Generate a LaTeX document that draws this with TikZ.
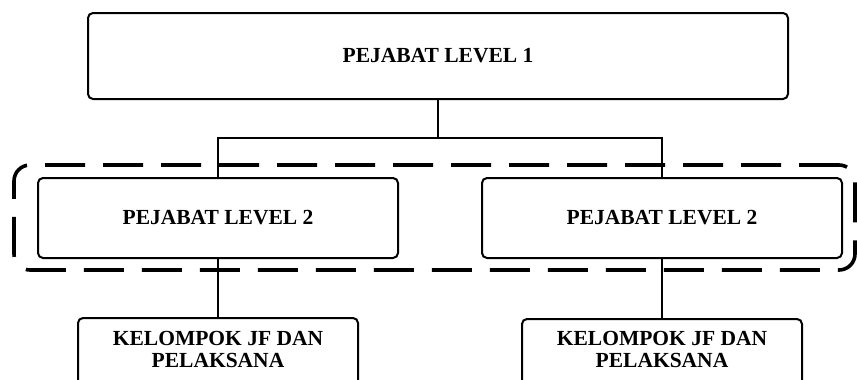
\documentclass[tikz,border=0pt]{standalone}
\usepackage{fontspec}
\setmainfont{Liberation Serif}
\begin{document}
\begin{tikzpicture}[x=1pt,y=-1pt,
  box/.style={draw, line width=2pt, rounded corners=5pt, inner sep=0pt},
  lbl/.style={font=\fontsize{21.5}{22}\selectfont\bfseries, align=center, inner sep=0pt},
  conn/.style={line width=1.8pt},
  grp/.style={draw, line width=3.6pt, rounded corners=16pt, dash pattern=on 40pt off 18pt, dash phase=0pt}]
\useasboundingbox (0,0) rectangle (857,380);
\clip (0,0) rectangle (857,380);
% level 1
\node[box, minimum width=700pt, minimum height=86pt] (l1) at (438,56) {};
\node[lbl] (l1t) at (438,56) {PEJABAT LEVEL 1};
% dashed group
\node[grp, minimum width=841pt, minimum height=105pt] (g) at (434.5,217.5) {};
% level 2
\node[box, minimum width=360pt, minimum height=80pt] (l2a) at (218,218) {};
\node[lbl] (l2at) at (218,218) {PEJABAT LEVEL 2};
\node[box, minimum width=360pt, minimum height=80pt] (l2b) at (662,218) {};
\node[lbl] (l2bt) at (662,218) {PEJABAT LEVEL 2};
% bottom
\node[box, minimum width=280pt, minimum height=80pt, anchor=north] (b1) at (218,317) {};
\node[lbl] (b1t) at (218,349) {KELOMPOK JF DAN\\PELAKSANA};
\node[box, minimum width=280pt, minimum height=80pt, anchor=north] (b2) at (662,318) {};
\node[lbl] (b2t) at (662,349) {KELOMPOK JF DAN\\PELAKSANA};
% connectors
\coordinate (bus) at (438,138);
\draw[conn] (l1.south) -- (bus);
\draw[conn] (bus) -| (l2a.north);
\draw[conn] (bus) -| (l2b.north);
\draw[conn] (l2a.south) -- (b1.north);
\draw[conn] (l2b.south) -- (b2.north);
\end{tikzpicture}
\end{document}
